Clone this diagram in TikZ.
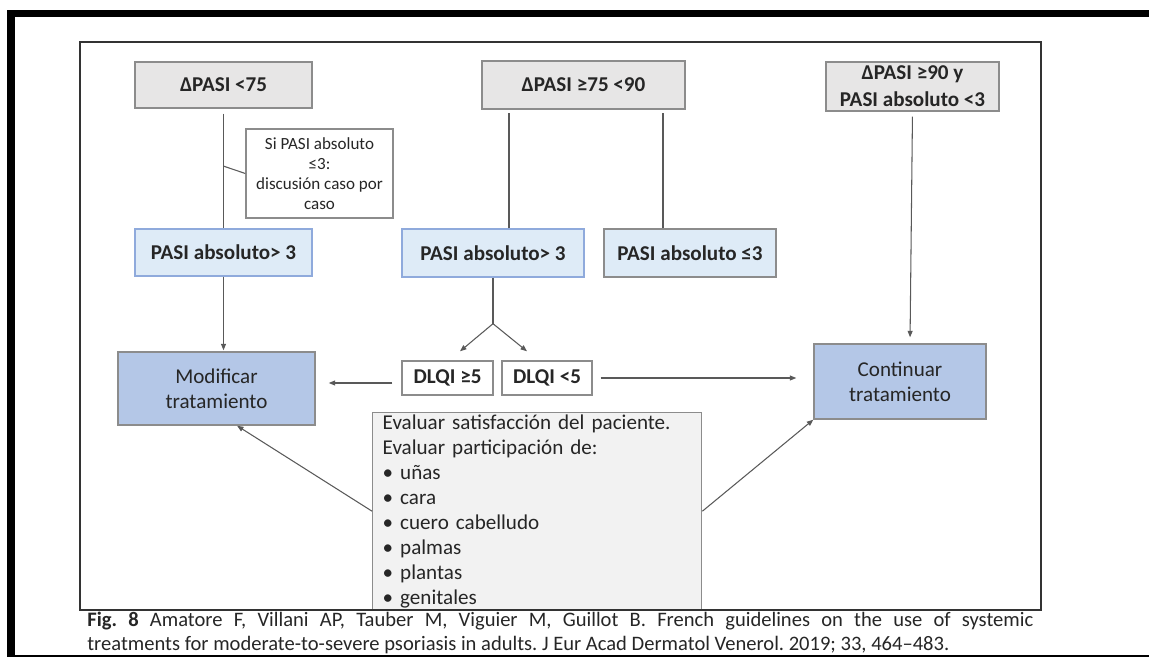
\documentclass[tikz,border=0pt]{standalone}
\usepackage{fontspec}
\setmainfont{Carlito}
\usetikzlibrary{positioning,calc,arrows.meta}
\definecolor{boxgray}{HTML}{E7E6E6}
\definecolor{edgegray}{HTML}{8C8C8C}
\definecolor{lightblue}{HTML}{DEEBF7}
\definecolor{midblue}{HTML}{B4C7E7}
\definecolor{blueedge}{HTML}{8FAADC}
\definecolor{evalgray}{HTML}{F2F2F2}
\definecolor{linegray}{HTML}{595959}
\definecolor{textgray}{HTML}{262626}
\definecolor{framegray}{HTML}{333333}
\frenchspacing

\begin{document}
\begin{tikzpicture}[>={Triangle[length=0.13cm,width=0.1cm]},
  boldtext/.style={font=\fontsize{12}{15.4}\selectfont\bfseries, text=textgray},
  gbox/.style={draw=edgegray, fill=boxgray, line width=0.8pt, inner sep=1pt, align=center, boldtext},
  pbox/.style={draw=blueedge, fill=lightblue, line width=0.8pt, inner sep=1pt, align=center, boldtext},
  tbox/.style={draw=edgegray, fill=midblue, line width=0.8pt, inner sep=1pt, align=center, font=\fontsize{12}{14.2}\selectfont, text=textgray},
  wbox/.style={draw=edgegray, fill=white, line width=0.8pt, inner sep=1pt, align=center},
  link/.style={draw=linegray, line width=0.6pt},
  arrow/.style={link, ->}]
\useasboundingbox (0,0) rectangle (22.98,-13.14);

% ----------------- First row -----------------
\node (dpasi1) [gbox, minimum width=3.54cm, minimum height=0.92cm] at (4.47,-1.70) {ΔPASI <75};
\node (dpasi2) [gbox, minimum width=4.06cm, minimum height=0.96cm] at (11.67,-1.70) {ΔPASI ≥75 <90};
\node (dpasi3) [gbox, minimum width=3.46cm, minimum height=0.98cm] at (18.25,-1.73) {ΔPASI ≥90 y\\PASI absoluto <3};

\node (note) [wbox, minimum width=2.94cm, minimum height=1.78cm, font=\fontsize{9.7}{11.4}\selectfont, text=textgray] at (6.39,-3.47) {Si PASI absoluto\\≤3:\\discusión caso por\\caso};

% ----------------- Second row -----------------
\node (pasi1) [pbox, minimum width=3.54cm, minimum height=0.94cm] at (4.47,-5.05) {PASI absoluto> 3};
\node (pasi2) [pbox, minimum width=3.64cm, minimum height=0.96cm] at (9.86,-5.06) {PASI absoluto> 3};
\node (pasi3) [pbox, draw=edgegray, minimum width=3.44cm, minimum height=0.96cm] at (13.80,-5.06) {PASI absoluto ≤3};

% ----------------- row 3 -----------------
\node (modif) [tbox, minimum width=3.94cm, minimum height=1.46cm] at (4.33,-7.77) {Modificar\\tratamiento};
\node (cont) [tbox, minimum width=3.44cm, minimum height=1.50cm] at (18.00,-7.63) {Continuar\\tratamiento};
\node (dlqi1) [wbox, boldtext, minimum width=1.82cm, minimum height=0.68cm] at (8.95,-7.56) {DLQI ≥5};
\node (dlqi2) [wbox, boldtext, minimum width=1.80cm, minimum height=0.68cm] at (10.94,-7.56) {DLQI <5};

\node (eval) [draw=edgegray, fill=evalgray, line width=0.8pt, anchor=north west, inner xsep=0.2cm, inner ysep=0.04cm, text width=6.18cm, align=left, font=\fontsize{12}{14.2}\selectfont, text=textgray] at (7.44,-8.24) {Evaluar satisfacción del paciente.\\Evaluar participación de:\\• uñas\\• cara\\• cuero cabelludo\\• palmas\\• plantas\\• genitales};

% ----------------- Lines -----------------
\draw[link, shorten <=0.1cm] (dpasi1.south) -- (pasi1.north);
\draw[link] (note.west) -- ($(dpasi1.south)!0.48!(pasi1.north)$);
\draw[link, shorten >=0.06cm] ([xshift=0.32cm]pasi2.north) -- ([xshift=0.32cm]pasi2.north |- dpasi2.south);
\draw[link, shorten >=0.06cm] ([xshift=-0.54cm]pasi3.north) -- ([xshift=-0.54cm]pasi3.north |- dpasi2.south);

% ----------------- Arrows -----------------
\draw[arrow, shorten <=0.1cm, shorten >=0.12cm] (dpasi3.south) -- ([xshift=0.2cm]cont.north);
\draw[arrow, shorten >=0.02cm] (pasi1.south) -- (pasi1.south |- modif.north);

\coordinate (fork) at ($(pasi2.south)+(0,-0.92)$);
\draw[link] (pasi2.south) -- (fork);
\draw[arrow] (fork) -- ([xshift=0.25cm,yshift=0.18cm]dlqi1.north);
\draw[arrow] (fork) -- ([xshift=-0.40cm,yshift=0.18cm]dlqi2.north);

\draw[arrow, shorten <=0.18cm, shorten >=0.26cm] ([yshift=-0.1cm]dlqi1.west) -- ([yshift=-0.1cm]dlqi1.west -| modif.east);
\draw[arrow, shorten <=0.16cm, shorten >=0.34cm] (dlqi2.east) -- (dlqi2.east -| cont.west);

\draw[arrow] (eval.west) -- ([xshift=0.41cm]modif.south);
\draw[arrow] (eval.east) -- (cont.south west);

% ----------------- Frame and caption -----------------
\draw[line width=1.2pt, draw=framegray] (1.60,-0.84) rectangle (20.82,-12.20);
\fill (0.14,-0.20) rectangle (22.98,-0.34);
\fill (0.14,-0.20) rectangle (0.30,-13.14);
\draw[line width=0.6pt] (0.14,-13.12) -- (22.98,-13.12);

\node (caption) [anchor=base west, text width=18.92cm, align=justify, inner sep=0pt, font=\fontsize{11.7}{14.2}\selectfont, text=textgray] at (1.74,-12.52) {\textbf{Fig. 8} Amatore F, Villani AP, Tauber M, Viguier M, Guillot B. French guidelines on the use of systemic\linebreak treatments for moderate-to-severe psoriasis in adults. J Eur Acad Dermatol Venerol. 2019; 33, 464–483.};

\end{tikzpicture}
\end{document}
